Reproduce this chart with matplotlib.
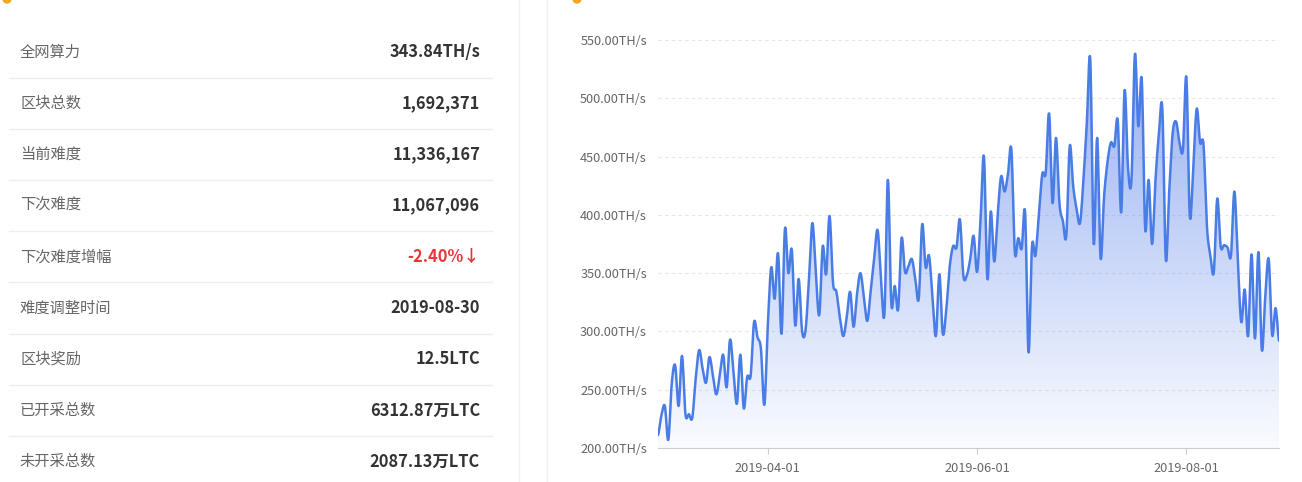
import numpy as np
import pandas as pd
import matplotlib
matplotlib.use('Agg')
import matplotlib.pyplot as plt
import matplotlib.dates as mdates
from matplotlib.patches import Polygon, Circle

plt.rcParams['font.family'] = ['Noto Sans CJK SC', 'DejaVu Sans']

# left table
row_labels = ['全网算力', '区块总数', '当前难度', '下次难度', '下次难度增幅',
              '难度调整时间', '区块奖励', '已开采总数', '未开采总数']
row_values = ['343.84TH/s', '1,692,371', '11,336,167', '11,067,096', '-2.40%↓',
              '2019-08-30', '12.5LTC', '6312.87万LTC', '2087.13万LTC']
value_colors = ['#333333'] * 4 + ['#e8363b'] + ['#333333'] * 4

# hashrate series, daily from 2019-02-28 (TH/s)
start_date = '2019-02-28'
hashrate = [
    211, 228, 236, 207, 255, 271, 236, 279, 229, 229,
    226, 260, 284, 268, 256, 278, 262, 246, 262, 280,
    252, 293, 265, 238, 280, 234, 261, 262, 308, 295,
    285, 237, 305, 355, 328, 367, 298, 388, 350, 370,
    305, 345, 300, 301, 345, 393, 350, 314, 373, 349,
    399, 342, 334, 312, 296, 312, 334, 304, 332, 350,
    330, 309, 335, 362, 387, 345, 315, 430, 324, 339,
    319, 380, 351, 356, 362, 345, 328, 392, 355, 365,
    330, 296, 349, 298, 318, 355, 373, 372, 396, 348,
    348, 362, 382, 351, 395, 450, 345, 403, 360, 400,
    433, 420, 435, 456, 368, 380, 371, 402, 282, 373,
    365, 400, 435, 436, 487, 410, 466, 410, 395, 382,
    459, 425, 405, 393, 430, 480, 533, 375, 466, 363,
    415, 445, 462, 459, 481, 402, 507, 440, 430, 538,
    476, 516, 388, 430, 375, 430, 470, 491, 362, 420,
    470, 480, 462, 456, 518, 399, 440, 491, 462, 460,
    390, 365, 351, 414, 373, 374, 372, 365, 420, 360,
    308, 336, 296, 366, 294, 368, 284, 330, 362, 297,
    320, 292,
]
y_ticks = [200, 250, 300, 350, 400, 450, 500, 550]
x_ticks = ['2019-04-01', '2019-06-01', '2019-08-01']


def smooth_line(x, y, n=10):
    # catmull-rom curve through the points, for the rounded line look
    xs, ys = [], []
    m = len(y)
    t = np.linspace(0, 1, n, endpoint=False)
    for i in range(m - 1):
        p0, p1, p2, p3 = y[max(i - 1, 0)], y[i], y[i + 1], y[min(i + 2, m - 1)]
        yy = 0.5 * (2 * p1 + (-p0 + p2) * t + (2 * p0 - 5 * p1 + 4 * p2 - p3) * t ** 2
                    + (-p0 + 3 * p1 - 3 * p2 + p3) * t ** 3)
        xs.append(x[i] + (x[i + 1] - x[i]) * t)
        ys.append(yy)
    xs.append([x[-1]])
    ys.append([y[-1]])
    return np.concatenate(xs), np.concatenate(ys)


def main():
    W, H = 1302, 482
    fig = plt.figure(figsize=(W / 100, H / 100), dpi=100)

    # background layer in pixel coords
    bg = fig.add_axes([0, 0, 1, 1])
    bg.set_xlim(0, W)
    bg.set_ylim(H, 0)
    bg.axis('off')

    row_h = 51.2
    y0 = 52
    for i, (lab, val, col) in enumerate(zip(row_labels, row_values, value_colors)):
        yc = y0 + i * row_h
        bg.text(20, yc, lab, fontsize=11, color='#666666', va='center', ha='left')
        bg.text(480, yc, val, fontsize=11.8, color=col, fontweight='bold',
                va='center', ha='right')
        if i < len(row_labels) - 1:
            bg.plot([9, 492], [yc + row_h / 2, yc + row_h / 2], color='#eeeeee', lw=1)

    # card edges
    bg.plot([519, 519], [0, H], color='#f0f0f0', lw=1)
    bg.plot([547, 547], [0, H], color='#f0f0f0', lw=1)
    bg.add_patch(Circle((7, -1), 4, color='#f5a623'))
    bg.add_patch(Circle((577, -1), 4, color='#f5a623'))

    # chart
    ax = fig.add_axes([658 / W, 1 - 448 / H, (1279 - 658) / W, (448 - 40) / H])
    dates = pd.date_range(start_date, periods=len(hashrate), freq='D')
    xnum = mdates.date2num(dates)
    sx, sy = smooth_line(xnum, np.array(hashrate, dtype=float))

    ax.set_xlim(xnum[0], xnum[-1])
    ax.set_ylim(200, 550)

    # gradient fill under the line
    poly = Polygon(np.column_stack([np.r_[sx, sx[-1], sx[0]], np.r_[sy, 200, 200]]),
                   closed=True, facecolor='none', edgecolor='none')
    ax.add_patch(poly)
    grad = np.linspace(0.62, 0.03, 256).reshape(-1, 1)
    rgba = np.zeros((256, 1, 4))
    rgba[..., 0] = 0.32
    rgba[..., 1] = 0.49
    rgba[..., 2] = 0.92
    rgba[..., 3] = grad
    im = ax.imshow(rgba, extent=[xnum[0], xnum[-1], 200, 550], origin='upper',
                   aspect='auto', zorder=1)
    im.set_clip_path(poly)

    ax.plot(sx, sy, color='#4a7ce6', lw=1.8, zorder=3, solid_capstyle='round')

    ax.set_yticks(y_ticks)
    ax.set_yticklabels([f'{v:.2f}TH/s' for v in y_ticks])
    ax.set_xticks(mdates.date2num(pd.to_datetime(x_ticks)))
    ax.set_xticklabels(x_ticks)
    ax.tick_params(axis='y', length=0, pad=8, labelsize=9.2, labelcolor='#666666')
    ax.tick_params(axis='x', length=4, color='#cccccc', pad=6, labelsize=9.2,
                   labelcolor='#666666')
    ax.grid(axis='y', color='#e6e6e6', linestyle=(0, (3, 3)), lw=0.8, zorder=0)
    for s in ['top', 'right', 'left']:
        ax.spines[s].set_visible(False)
    ax.spines['bottom'].set_color('#cccccc')
    ax.set_axisbelow(True)
    ax.patch.set_alpha(0)

    fig.savefig('out.png', dpi=100)


if __name__ == '__main__':
    main()
